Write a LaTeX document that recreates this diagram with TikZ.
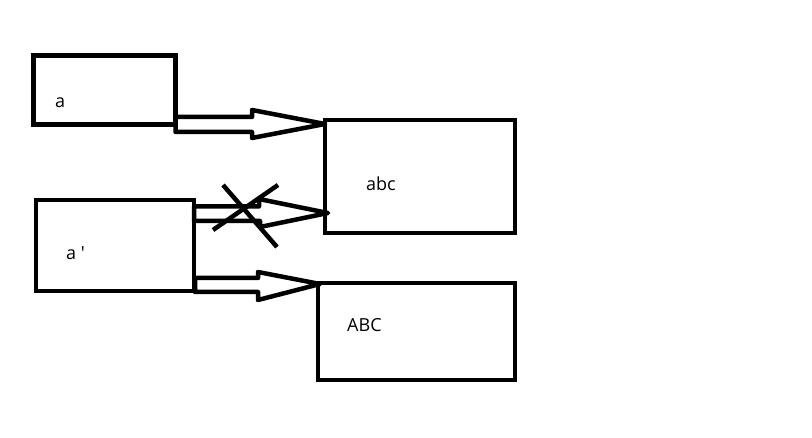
\documentclass[tikz,border=0pt]{standalone}
\usepackage{fontspec}
\setmainfont{Open Sans}
\begin{document}
\begin{tikzpicture}[x=1pt,y=-1pt,
  box/.style={draw=black,line width=4.5pt,rectangle,inner sep=0pt},
  lbl/.style={anchor=base west,inner sep=0pt,font=\fontsize{18}{20}\selectfont},
  blockarrow/.style={draw=black,line width=4.5pt,line join=round},
  crossline/.style={draw=black,line width=4.5pt}]
\useasboundingbox[fill=white] (0,0) rectangle (812,438);
% boxes
\node[box,minimum width=142pt,minimum height=69pt] (ba) at (104.5,90) {};
\node[box,minimum width=158pt,minimum height=91pt] (bap) at (115,245.5) {};
\node[box,minimum width=190pt,minimum height=113pt] (babc) at (420,176.5) {};
\node[box,minimum width=197pt,minimum height=97pt] (bABC) at (416.5,331.5) {};
% labels
\node[lbl] (ta) at (55,108) {a};
\node[lbl] (tap) at (66,260) {a \textquotesingle};
\node[lbl] (tabc) at (366,191) {abc};
\node[lbl] (tABC) at (347,332) {ABC};
% arrow a -> abc
\draw[blockarrow] (175.5,117) -- (252,117) -- (252,110) -- (325,124) -- (252,138) -- (252,132) -- (175.5,132) -- cycle;
% crossed arrow a' -> abc
\draw[blockarrow] (194,206.5) -- (259,206.5) -- (259,199) -- (328,213) -- (260,227) -- (260,221) -- (194,221) -- cycle;
% arrow a' -> ABC
\draw[blockarrow] (195,278) -- (258,278) -- (258,272) -- (320,284) -- (258,300) -- (258,292) -- (195,292) -- cycle;
% cross
\coordinate (c1) at (223,185);
\coordinate (c2) at (277,247);
\coordinate (c3) at (278,185);
\coordinate (c4) at (213,230);
\draw[crossline] (c1) -- (c2);
\draw[crossline] (c3) -- (c4);
\end{tikzpicture}
\end{document}
